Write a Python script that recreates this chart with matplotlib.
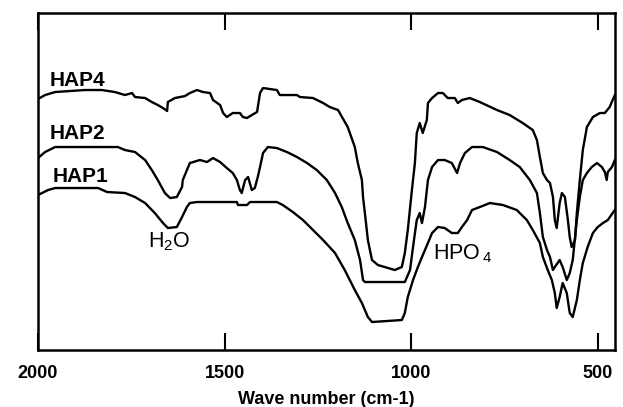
import matplotlib
matplotlib.use("Agg")
import matplotlib.pyplot as plt

plt.rcParams['font.family'] = ['Liberation Sans', 'DejaVu Sans']
plt.rcParams['mathtext.fontset'] = 'custom'
plt.rcParams['mathtext.rm'] = 'Liberation Sans'

# wave number (cm-1) and transmittance (arbitrary units)
hap4_wn = [2000, 1981, 1954, 1874, 1829, 1794, 1767, 1748, 1740, 1713, 1695, 1679, 1665, 1654,
           1652, 1633, 1606, 1593, 1574, 1558, 1539, 1531, 1512, 1504, 1494, 1486, 1478, 1459,
           1451, 1440, 1427, 1413, 1405, 1397, 1360, 1352, 1306, 1298, 1263, 1236, 1218, 1196,
           1170, 1151, 1143, 1132, 1129, 1124, 1116, 1105, 1089, 1062, 1044, 1025, 1017, 1009,
           998, 990, 985, 977, 969, 958, 955, 944, 928, 915, 902, 883, 875, 864, 843, 816, 770,
           736, 701, 674, 663, 655, 647, 636, 628, 620, 615, 610, 602, 596, 588, 580, 575, 570,
           561, 556, 548, 540, 529, 513, 494, 481, 468, 460, 454]
hap4_t = [251, 255, 258, 260, 260, 258, 255, 257, 253, 252, 248, 245, 242, 239,
          248, 252, 254, 257, 260, 258, 257, 250, 245, 237, 233, 235, 237, 237,
          233, 232, 235, 238, 257, 262, 260, 255, 255, 253, 252, 247, 243, 240,
          223, 203, 187, 170, 153, 137, 110, 90, 85, 82, 80, 83, 97, 120,
          160, 187, 217, 227, 217, 230, 247, 252, 257, 257, 252, 252, 247, 250, 252, 248, 240,
          235, 227, 220, 210, 193, 177, 170, 167, 153, 130, 122, 147, 157, 153, 130, 113, 103,
          110, 137, 170, 200, 223, 233, 237, 237, 243, 250, 255]

hap2_wn = [2000, 1981, 1954, 1786, 1767, 1740, 1713, 1695, 1679, 1660, 1646, 1628, 1614, 1612,
           1593, 1566, 1547, 1531, 1512, 1494, 1478, 1467, 1459, 1454, 1445, 1437, 1427, 1419,
           1411, 1405, 1397, 1384, 1360, 1333, 1306, 1279, 1253, 1226, 1204, 1186, 1170, 1151,
           1137, 1129, 1124, 1017, 1003, 995, 985, 977, 971, 963, 955, 944, 928, 910, 891, 877,
           869, 856, 837, 808, 770, 736, 709, 682, 663, 655, 647, 636, 628, 620, 615, 602, 594,
           583, 575, 567, 556, 548, 540, 529, 516, 502, 489, 481, 476, 473, 462, 454]
hap2_t = [192, 198, 203, 203, 200, 198, 190, 180, 170, 157, 152, 153, 163, 170,
          187, 190, 188, 192, 188, 182, 177, 170, 160, 157, 170, 173, 160, 162,
          173, 183, 197, 203, 202, 198, 193, 187, 180, 170, 157, 143, 127, 110,
          90, 70, 68, 68, 80, 103, 130, 137, 127, 143, 170, 183, 190, 190, 187, 177,
          187, 197, 203, 203, 198, 190, 183, 170, 157, 137, 113, 100, 93, 80, 83, 90, 83,
          70, 77, 90, 130, 153, 170, 177, 183, 187, 183, 178, 170, 178, 183, 190]

hap1_wn = [2000, 1973, 1954, 1839, 1815, 1767, 1740, 1713, 1687, 1665, 1652, 1628, 1614, 1601,
           1593, 1574, 1467, 1464, 1440, 1432, 1360, 1344, 1317, 1290, 1263, 1236, 1204, 1178,
           1151, 1132, 1116, 1105, 1025, 1017, 1009, 995, 982, 971, 963, 944, 928, 910, 891,
           875, 864, 850, 837, 816, 789, 754, 717, 690, 674, 655, 647, 634, 623, 615, 610, 602,
           594, 583, 575, 567, 556, 548, 540, 527, 513, 500, 486, 473, 460, 454]
hap1_t = [155, 160, 162, 162, 158, 157, 153, 147, 137, 127, 122, 123, 133, 143,
          147, 148, 148, 145, 145, 148, 148, 145, 138, 130, 120, 110, 97, 80,
          60, 47, 33, 28, 30, 37, 53, 70, 83, 93, 100, 117, 123, 122, 117,
          117, 123, 130, 140, 143, 147, 145, 140, 130, 120, 107, 93, 80, 70, 57, 42, 53,
          67, 57, 37, 33, 50, 70, 87, 103, 117, 123, 127, 130, 137, 140]

curve_labels = ['HAP4', 'HAP2', 'HAP1']
label_pos = [(1968, 270), (1968, 217), (1960, 174)]
xticks = [2000, 1500, 1000, 500]

fig = plt.figure(figsize=(6.23, 4.07), dpi=100)
ax = fig.add_axes([0.061, 0.140, 0.926, 0.828])

for wn, t in [(hap4_wn, hap4_t), (hap2_wn, hap2_t), (hap1_wn, hap1_t)]:
    ax.plot(wn, t, color='black', lw=1.7)

for name, (x, y) in zip(curve_labels, label_pos):
    ax.text(x, y, name, fontsize=15, fontweight='bold', ha='left', va='center')

ax.text(1649, 108, 'H$_2$O', fontsize=15.5, ha='center', va='center')
ax.text(942, 96, r'HPO$_{\,4}$', fontsize=15.5, ha='left', va='center')

ax.set_xlim(2000, 454)
ax.set_ylim(0, 337)
ax.set_xticks(xticks)
ax.set_yticks([])
ax.tick_params(axis='x', direction='in', length=12, width=1.5, top=True,
               labelsize=13, pad=11)
for lbl in ax.get_xticklabels():
    lbl.set_fontweight('bold')
for s in ax.spines.values():
    s.set_linewidth(1.8)
ax.set_xlabel('Wave number (cm-1)', fontsize=13, fontweight='bold', labelpad=6)

fig.savefig('out.png', dpi=100)
